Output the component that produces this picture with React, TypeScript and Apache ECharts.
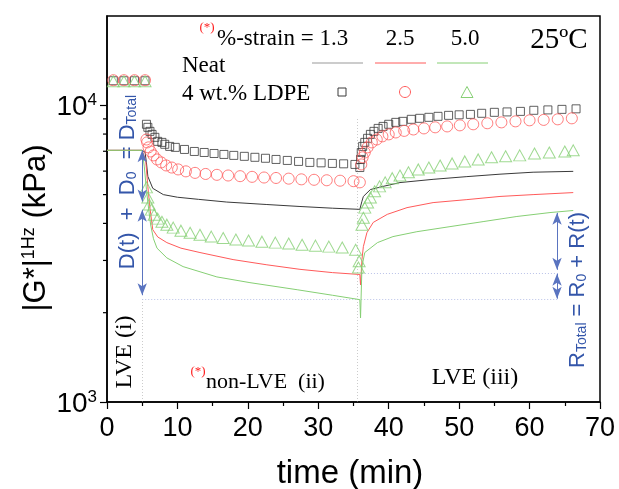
import React, { useEffect, useRef } from 'react';
import * as echarts from 'echarts';

// ---------- data (time in min, |G*| in kPa) ----------
const neat13: [number, number][] = [
  [0, 7050], [5.0, 7050], [5.4, 6950], [5.6, 6400], [5.8, 5760], [6.5, 5250], [8, 5000], [10, 4900],
  [13, 4820], [17, 4720], [22.7, 4630], [27.4, 4560], [32, 4500], [35.9, 4460], [36.2, 4750],
  [36.4, 4930], [37.4, 5200], [39.2, 5330], [41.6, 5490], [46.3, 5630], [51.1, 5750], [55.8, 5860],
  [60.5, 5950], [66.2, 5990],
];
const neat25: [number, number][] = [
  [0, 7050], [5.0, 7050], [5.5, 6500], [5.8, 5320], [6.1, 4500], [6.5, 3810], [7.2, 3600], [8.5, 3445],
  [10.5, 3300], [13.2, 3190], [17.9, 3020], [22.7, 2900], [27.4, 2800], [32, 2730], [35.9, 2690],
  [36.0, 2480], [36.2, 3020], [36.4, 3340], [36.9, 3720], [37.8, 4030], [39.8, 4290], [42.6, 4520],
  [46.3, 4700], [51.1, 4810], [55.8, 4930], [60.5, 5000], [66.2, 5080],
];
const neat50: [number, number][] = [
  [0, 7050], [5.0, 7050], [5.3, 6200], [5.6, 5200], [5.9, 4500], [6.2, 3950], [6.6, 3550], [7.1, 3300],
  [8.5, 3060], [10.8, 2860], [15.6, 2640], [20.3, 2525], [27, 2390], [32, 2290], [35.9, 2213],
  [36.0, 1920], [36.2, 2860], [36.6, 3190], [38.4, 3445], [40.6, 3610], [44, 3750], [48.7, 3900],
  [53.4, 4055], [58.2, 4220], [62.9, 4350], [66.2, 4420],
];
const ldpe13: [number, number][] = [
  [0.9, 12100], [2.4, 12100], [3.9, 12100], [5.4, 12100],
  [5.6, 8630], [5.8, 8430], [6.1, 8170], [6.4, 7980], [6.8, 7800], [7.2, 7560], [7.8, 7500], [8.2, 7390],
  [8.9, 7270], [9.7, 7215], [11, 7100], [12.4, 6990], [13.8, 6935], [15.2, 6880], [16.6, 6830],
  [18, 6780], [19.5, 6730], [21, 6680], [22.5, 6630], [24, 6570], [25.6, 6520], [27.2, 6470],
  [28.8, 6420], [30.4, 6400], [32, 6370], [33.6, 6350], [35.2, 6320],
  [35.9, 6170], [36.0, 6570], [36.1, 6935], [36.3, 7270], [36.6, 7500], [37.0, 7740], [37.4, 7980],
  [37.9, 8170], [38.5, 8360], [39.2, 8490], [40, 8630], [41, 8760], [42, 8830], [43.2, 8970],
  [44.4, 9040], [45.7, 9110], [47, 9180], [48.5, 9250], [50, 9290], [51.6, 9320], [53.2, 9400],
  [55, 9470], [56.8, 9500], [58.7, 9540], [60.6, 9620], [62.6, 9650], [64.6, 9690], [66.6, 9730],
];
const ldpe25: [number, number][] = [
  [0.9, 12150], [2.4, 12150], [3.9, 12150], [5.4, 12150],
  [5.6, 7670], [5.7, 7500], [5.9, 7215], [6.2, 6990], [6.6, 6780], [7.1, 6570], [7.7, 6420], [8.4, 6270],
  [9.2, 6170], [10.1, 6080], [11.2, 5990], [12.5, 5920], [14, 5870], [15.6, 5830], [17.2, 5800],
  [18.9, 5770], [20.6, 5740], [22.3, 5710], [24, 5690], [25.8, 5660], [27.6, 5630], [29.4, 5610],
  [31.2, 5590], [33.1, 5570], [35, 5550],
  [35.9, 5500], [36.1, 6320], [36.3, 6680], [36.6, 6935], [37.0, 7215], [37.6, 7500], [38.3, 7670],
  [39.1, 7860], [40.0, 7980], [41, 8100], [42.2, 8200], [43.5, 8290], [45, 8360], [46.6, 8430],
  [48.3, 8490], [50.1, 8560], [52, 8630], [54, 8700], [56, 8760], [58, 8830], [60, 8900],
  [62, 8930], [64, 8970], [66, 9040],
];
const ldpe50: [number, number][] = [
  [0.9, 12050], [2.4, 12050], [3.9, 12050], [5.4, 12050],
  [5.6, 5290], [5.8, 4890], [6.0, 4630], [6.3, 4450], [6.7, 4280], [7.2, 4150], [7.8, 4050], [8.5, 3960],
  [9.4, 3870], [10.5, 3780], [11.8, 3720], [13.2, 3660], [14.8, 3610], [16.5, 3570], [18.3, 3530],
  [20.1, 3500], [22, 3470], [23.9, 3445], [25.8, 3420], [27.7, 3390], [29.6, 3365], [31.5, 3340],
  [33.4, 3315], [35.3, 3260],
  [35.7, 2840], [35.8, 2980], [36.2, 3960], [36.4, 4180], [36.6, 4520], [37.0, 4700], [37.4, 4890],
  [38.0, 5130], [38.7, 5330], [39.5, 5500], [40.5, 5680], [41.6, 5800], [42.8, 5950], [44.2, 6080],
  [45.7, 6170], [47.3, 6270], [49, 6370], [50.8, 6470], [52.7, 6570], [54.6, 6680], [56.6, 6730],
  [58.6, 6780], [60.7, 6880], [62.8, 6935], [65, 6990], [66.2, 7050],
];
const yMinorTicks = [2000, 3000, 4000, 5000, 6000, 7000, 8000, 9000];
const strainLevels = ['1.3', '2.5', '5.0'];

// annotation guides (data coordinates)
const grayDotted: [number, number][][] = [
  [[5, 1000], [5, 2213]],
  [[35.5, 1000], [35.5, 9100]],
];
const blueDotted: [number, number][][] = [
  [[5, 2213], [64, 2213]],
  [[36.2, 2707], [64, 2707]],
];
const arrows: [number, number][][] = [
  [[5, 7050], [5, 4740]],
  [[5, 4450], [5, 2290]],
  [[63.9, 4340], [63.9, 2790]],
  [[63.9, 2707], [63.9, 2230]],
];

const SERIF = '"Liberation Serif", "Times New Roman", serif';
const SANS = '"Liberation Sans", Arial, sans-serif';
const BLUE = '#3456aa';
const C_BLACK = '#3a3a3a';
const C_RED = '#ff5a5a';
const C_GREEN = '#86cf74';

function txt(x: number, y: number, text: string, fontSize: number, opts: any = {}) {
  const { align = 'left', vAlign = 'middle', fill = '#000', font = SERIF, rotation = 0, rich } = opts;
  return {
    type: 'text', x, y, rotation, silent: true,
    style: {
      text, fill, fontSize, fontFamily: font,
      align, textAlign: align, verticalAlign: vAlign, textVerticalAlign: vAlign,
      rich,
    },
  };
}

export default function App() {
  const ref = useRef<HTMLDivElement>(null);
  useEffect(() => {
    const chart = echarts.init(ref.current!, null, { renderer: 'svg' });
    const lineSeries = (data: [number, number][], color: string) => ({
      type: 'line', data, showSymbol: false, symbol: 'none', silent: true, z: 2,
      lineStyle: { color, width: 1 },
    });
    const markerSeries = (data: [number, number][], symbol: string, size: any, color: string) => ({
      type: 'scatter', data, symbol, symbolSize: size, silent: true, z: 3,
      itemStyle: { color: 'rgba(0,0,0,0)', borderColor: color, borderWidth: 1 },
    });
    const subRich = (fs: number) => ({
      m: { fontSize: fs, fontFamily: SANS, fill: BLUE },
      s: { fontSize: 14, fontFamily: SANS, fill: BLUE, verticalAlign: 'bottom', padding: [9, 0, 0, 0] },
    });
    chart.setOption({
      animation: false,
      grid: { left: 107, right: 19, top: 16, bottom: 87, show: true, borderColor: '#000', borderWidth: 1.5 },
      xAxis: {
        type: 'value', min: 0, max: 70, interval: 10,
        axisLine: { show: true, lineStyle: { color: '#000', width: 1.5 } },
        axisTick: { show: true, length: 7, lineStyle: { color: '#000', width: 1.2 } },
        minorTick: { show: true, splitNumber: 2, length: 4, lineStyle: { color: '#000', width: 1.2 } },
        splitLine: { show: false },
        axisLabel: { fontSize: 27, color: '#000', fontFamily: SANS, margin: 11 },
      },
      yAxis: {
        type: 'log', logBase: 10, min: 1000, max: 20000,
        axisLine: { show: true, onZero: false, lineStyle: { color: '#000', width: 1.5 } },
        axisTick: { show: true, length: 7, lineStyle: { color: '#000', width: 1.2 } },
        splitLine: { show: false },
        axisLabel: {
          margin: 10, showMaxLabel: false,
          formatter: (v: number) => {
            const e = Math.log10(v);
            if (Math.abs(e - Math.round(e)) > 1e-6) return '';
            return `{b|10}{s|${Math.round(e)}}`;
          },
          rich: {
            b: { fontSize: 28, fontFamily: SANS, color: '#000' },
            s: { fontSize: 17, fontFamily: SANS, color: '#000', verticalAlign: 'top' },
          },
        },
      },
      series: [
        {
          type: 'custom', silent: true, z: 5,
          data: yMinorTicks.map((v) => [0, v]),
          encode: { x: 0, y: 1 },
          renderItem: (params: any, api: any) => {
            const p = api.coord([0, api.value(1)]);
            return {
              type: 'line',
              shape: { x1: p[0] - 4, y1: p[1], x2: p[0], y2: p[1] },
              style: { stroke: '#000', lineWidth: 1.2 },
            };
          },
        },
        {
          type: 'lines', coordinateSystem: 'cartesian2d', silent: true, z: 1,
          data: grayDotted.map((c) => ({ coords: c })),
          lineStyle: { color: '#999', width: 1, type: [1, 2] },
        },
        {
          type: 'lines', coordinateSystem: 'cartesian2d', silent: true, z: 1,
          data: blueDotted.map((c) => ({ coords: c })),
          lineStyle: { color: '#7888d4', width: 1, type: [1, 2] },
        },
        {
          type: 'line', data: [], silent: true, z: 4,
          markLine: {
            silent: true, animation: false,
            symbol: ['arrow', 'arrow'], symbolSize: [7, 12],
            label: { show: false },
            lineStyle: { color: '#5a74c0', width: 1, type: 'solid' },
            itemStyle: { color: BLUE },
            data: arrows.map((c) => [{ coord: c[0] }, { coord: c[1] }]),
          },
        },
        lineSeries(neat13, C_BLACK),
        lineSeries(neat25, C_RED),
        lineSeries(neat50, C_GREEN),
        markerSeries(ldpe13, 'rect', 8, C_BLACK),
        markerSeries(ldpe25, 'circle', 11, C_RED),
        markerSeries(ldpe50, 'triangle', [12, 11], C_GREEN),
      ],
      graphic: [
        txt(207, 26, '(*)', 13, { align: 'center', fill: '#ff2020' }),
        txt(217, 37, `%-strain = ${strainLevels[0]}`, 23),
        txt(400, 37, strainLevels[1], 23, { align: 'center' }),
        txt(465, 37, strainLevels[2], 23, { align: 'center' }),
        txt(559, 38, '25ºC', 29, { align: 'center' }),
        txt(182, 64, 'Neat', 23),
        txt(182, 92, '4 wt.% LDPE', 23),
        { type: 'line', shape: { x1: 312, y1: 63, x2: 363, y2: 63 }, style: { stroke: '#999', lineWidth: 1 } },
        { type: 'line', shape: { x1: 375, y1: 63, x2: 426, y2: 63 }, style: { stroke: C_RED, lineWidth: 1 } },
        { type: 'line', shape: { x1: 437, y1: 63, x2: 488, y2: 63 }, style: { stroke: C_GREEN, lineWidth: 1 } },
        { type: 'rect', shape: { x: 338, y: 88, width: 8, height: 8 }, style: { fill: 'none', stroke: C_BLACK, lineWidth: 1 } },
        { type: 'circle', shape: { cx: 405, cy: 92, r: 5.5 }, style: { fill: 'none', stroke: C_RED, lineWidth: 1 } },
        { type: 'polygon', shape: { points: [[467, 86.5], [473, 97.5], [461, 97.5]] }, style: { fill: 'none', stroke: C_GREEN, lineWidth: 1 } },
        txt(123, 352, 'LVE (i)', 24, { align: 'center', rotation: Math.PI / 2 }),
        txt(198, 370, '(*)', 13, { align: 'center', fill: '#ff2020' }),
        txt(206, 380, 'non-LVE  (ii)', 22),
        txt(475, 376, 'LVE (iii)', 24, { align: 'center' }),
        txt(350, 471, 'time (min)', 33, { align: 'center', font: SANS }),
        txt(34, 228, '{m|\u007CG*\u007C}{p|1Hz}{m| (kPa)}', 31, {
          align: 'center', font: SANS, rotation: Math.PI / 2,
          rich: {
            m: { fontSize: 31, fontFamily: SANS, fill: '#000' },
            p: { fontSize: 18, fontFamily: SANS, fill: '#000', verticalAlign: 'top' },
          },
        }),
        txt(126, 182, '{m|D(t)  +  D}{s|0}{m|  = D}{s|Total}', 22, {
          align: 'center', font: SANS, rotation: Math.PI / 2, rich: subRich(22),
        }),
        txt(576, 290, '{m|R}{s|Total}{m| = R}{s|0}{m| + R(t)}', 22, {
          align: 'center', font: SANS, rotation: Math.PI / 2, rich: subRich(22),
        }),
      ],
    });
    return () => chart.dispose();
  }, []);
  return <div ref={ref} style={{ position: 'fixed', left: 0, top: 0, width: 619, height: 489 }} />;
}
